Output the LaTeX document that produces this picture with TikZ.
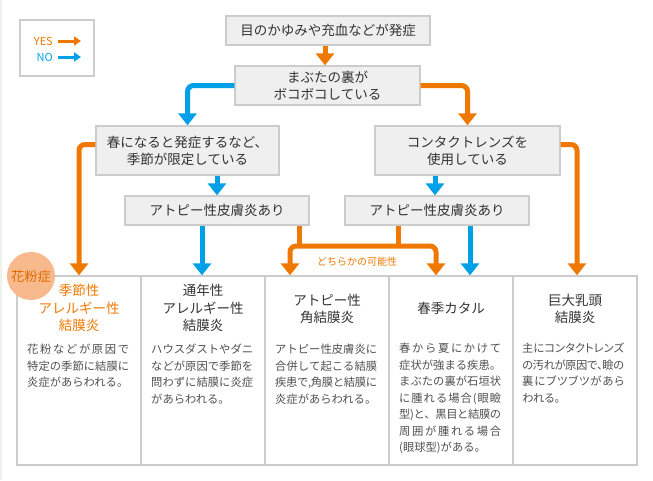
\documentclass[tikz,border=0pt]{standalone}
\usepackage{fontspec}
\setmainfont{Noto Sans CJK JP}
\usetikzlibrary{arrows.meta}
\definecolor{org}{HTML}{EE7800}
\definecolor{orgdark}{HTML}{E06A00}
\definecolor{blu}{HTML}{00A0E9}
\definecolor{boxfill}{HTML}{EFEFEF}
\definecolor{boxline}{HTML}{CCCCCC}
\definecolor{txt}{HTML}{333333}
\definecolor{desctxt}{HTML}{505050}
\definecolor{pinkc}{HTML}{F8BA8C}
\definecolor{strip}{HTML}{F0F0EC}
\newcommand\jsp[1]{\leavevmode\hbox to 102pt{\jspA#1\relax}}
\def\jspA#1{#1\jspB}
\def\jspB#1{\ifx#1\relax\else\hss#1\expandafter\jspB\fi}
\tikzset{
 qbox/.style={draw=boxline, fill=boxfill, line width=1.3pt, align=center, text=txt, font=\fontsize{13.5}{17}\selectfont, inner sep=0pt},
 colbox/.style={draw=boxline, line width=1.3pt, minimum width=124pt, minimum height=189pt, inner sep=0pt},
 yesline/.style={draw=org, line width=5pt},
 noline/.style={draw=blu, line width=5pt},
 arrowtip/.style={-{Triangle[width=18pt,length=12pt]}},
 ttl/.style={align=center, text=txt, font=\fontsize{13.5}{17.5}\selectfont, inner sep=0pt},
 dsc/.style={align=left, text=desctxt, font=\fontsize{11.3}{16.5}\selectfont, inner sep=0pt, anchor=north west},
}
\begin{document}
\begin{tikzpicture}[x=1pt,y=-1pt]
\useasboundingbox (0,0) rectangle (653,480);
\fill[strip] (0,0) rectangle (2,480);
% legend
\node[draw=boxline, line width=2pt, minimum width=74pt, minimum height=56pt, inner sep=0pt] (leg) at (57,48) {};
\node[anchor=east, text=org, inner sep=0pt, font=\fontsize{11}{12}\selectfont] (yes) at (53,41) {YES};
\node[anchor=east, text=blu, inner sep=0pt, font=\fontsize{11}{12}\selectfont] (no) at (53,57) {NO};
\coordinate (yesend) at (81,41);
\coordinate (noend) at (81,57);
\draw[org, line width=3pt, -{Triangle[width=9pt,length=7pt]}] ([xshift=5pt]yes.east) -- (yes.east -| yesend);
\draw[blu, line width=3pt, -{Triangle[width=9pt,length=7pt]}] ([xshift=5pt]no.east) -- (no.east -| noend);
% question boxes
\node[qbox, minimum width=204pt, minimum height=29pt] (q1) at (328,30.5) {目のかゆみや充血などが発症};
\node[qbox, minimum width=185pt, minimum height=39pt] (q2) at (327.5,85.5) {まぶたの裏が\\ボコボコしている};
\node[qbox, minimum width=183pt, minimum height=49pt] (q3) at (187.5,150.5) {春になると発症するなど、\\季節が限定している};
\node[qbox, minimum width=185pt, minimum height=49pt] (q4) at (467.5,150.5) {コンタクトレンズを\\使用している};
\node[qbox, minimum width=184pt, minimum height=29pt] (q5) at (217,210.5) {アトピー性皮膚炎あり};
\node[qbox, minimum width=184pt, minimum height=29pt] (q6) at (437,210.5) {アトピー性皮膚炎あり};
% table columns
\node[colbox] (c1) at (79,370.5) {};
\node[colbox] (c2) at (203,370.5) {};
\node[colbox] (c3) at (327,370.5) {};
\node[colbox] (c4) at (451,370.5) {};
\node[colbox] (c5) at (575,370.5) {};
% titles
\node[ttl, text=org] (t1) at (79,308) {季節性\\アレルギー性\\結膜炎};
\node[ttl] (t2) at (203,308) {通年性\\アレルギー性\\結膜炎};
\node[ttl] (t3) at (327,309) {アトピー性\\角結膜炎};
\node[ttl] (t4) at (451,308) {春季カタル};
\node[ttl] (t5) at (575,309) {巨大乳頭\\結膜炎};
% descriptions
\node[dsc] (d1) at (27,344) {\jsp{花粉などが原因で}\\\jsp{特定の季節に結膜に}\\炎症があらわれる。};
\node[dsc] (d2) at (151,344) {\jsp{ハウスダストやダニ}\\\jsp{などが原因で季節を}\\\jsp{問わずに結膜に炎症}\\があらわれる。};
\node[dsc] (d3) at (275,344) {\jsp{アトピー性皮膚炎に}\\\jsp{合併して起こる結膜}\\\jsp{疾患で,角膜と結膜に}\\炎症があらわれる。};
\node[dsc] (d4) at (399,343) {\jsp{春から夏にかけて}\\\jsp{症状が強まる疾患。}\\\jsp{まぶたの裏が石垣状}\\\jsp{に腫れる場合(眼瞼}\\\jsp{型)と、黒目と結膜の}\\\jsp{周囲が腫れる場合}\\(眼球型)がある。};
\node[dsc, font=\fontsize{11.3}{16.5}\selectfont\addfontfeature{RawFeature=+palt}] (d5) at (522,343) {\jsp{主にコンタクトレンズ}\\\jsp{の汚れが原因で、瞼の}\\\jsp{裏にブツブツがあら}\\われる。};
% circle
\node[circle, fill=pinkc, minimum size=48pt, inner sep=0pt, text=orgdark, font=\fontsize{13.3}{15}\selectfont] (kafun) at (31,276) {花粉症};
% connectors
\draw[yesline, arrowtip] ([xshift=-3pt]q1.south) -- ([xshift=-3pt]q1.south |- q2.north);
\draw[noline, arrowtip, rounded corners=6pt] (q2.west) -| (q3.north);
\draw[yesline, arrowtip, rounded corners=6pt] (q2.east) -| (q4.north);
\draw[yesline, arrowtip, rounded corners=6pt] ([yshift=6pt]q3.west) -| (c1.north);
\draw[yesline, arrowtip, rounded corners=6pt] ([yshift=6pt]q4.east) -| ([xshift=2pt]c5.north);
\draw[noline, arrowtip] (q5.north |- q3.south) -- (q5.north);
\draw[noline, arrowtip] ([xshift=-2pt]q6.north |- q4.south) -- ([xshift=-2pt]q6.north);
\draw[noline, arrowtip] ([xshift=-1pt]c2.north |- q5.south) -- ([xshift=-1pt]c2.north);
\draw[noline, arrowtip] ([xshift=19pt]c4.north |- q6.south) -- ([xshift=19pt]c4.north);
\coordinate (ya) at ([xshift=-37pt]c3.north);
\coordinate (yb) at ([xshift=-15pt]c4.north);
\coordinate (hb) at (357,246);
\draw[yesline] ([xshift=82pt]q5.south) -- ([xshift=82pt]q5.south |- hb);
\draw[yesline] ([xshift=-39pt]q6.south) -- ([xshift=-39pt]q6.south |- hb);
\draw[yesline, {Triangle[width=18pt,length=12pt]}-{Triangle[width=18pt,length=12pt]}, rounded corners=6pt] (ya) -- (ya |- hb) -- (yb |- hb) -- (yb);
\node[text=org, inner sep=0pt, font=\fontsize{10}{12}\selectfont] (lbl) at (357,262) {どちらかの可能性};
\end{tikzpicture}
\end{document}
